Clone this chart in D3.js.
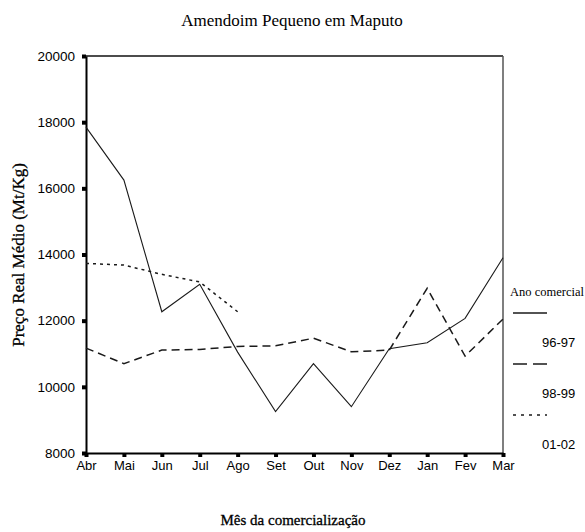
<!DOCTYPE html>
<html>
<head>
<meta charset="utf-8">
<script src="https://cdn.jsdelivr.net/npm/d3@7"></script>
<style>
  body { margin: 0; background: #fff; }
  svg { display: block; }
</style>
</head>
<body>
<div id="chart"></div>
<script>
const months = ['Abr', 'Mai', 'Jun', 'Jul', 'Ago', 'Set', 'Out', 'Nov', 'Dez', 'Jan', 'Fev', 'Mar'];
const yTicks = [8000, 10000, 12000, 14000, 16000, 18000, 20000];
const seriesNames = ['96-97', '98-99', '01-02'];

// preço real médio (Mt/Kg) por mês
const s9697 = [17850, 16250, 12270, 13100, 11050, 9250, 10700, 9400, 11150, 11330, 12070, 13900];
const s9899 = [11170, 10700, 11110, 11130, 11220, 11240, 11470, 11060, 11110, 12980, 10930, 12050];
const s0102 = [13730, 13680, 13400, 13170, 12270, null, null, null, null, null, null, null];

const W = 585;
const H = 532;
const plot = { left: 86, right: 503, top: 56, bottom: 453 };

const dashes = ['none', '8,5', '3,4'];
const widths = [1.1, 1.5, 1.5];

const svg = d3.select('#chart').append('svg')
  .attr('width', W)
  .attr('height', H)
  .style('font-family', '"Liberation Sans", Arial, sans-serif');

const x = d3.scalePoint()
  .domain(months)
  .range([plot.left, plot.right]);

const y = d3.scaleLinear()
  .domain([8000, 20000])
  .range([plot.bottom, plot.top]);

// title
svg.append('text')
  .attr('x', 292)
  .attr('y', 26)
  .attr('text-anchor', 'middle')
  .style('font-family', '"Liberation Serif", "Times New Roman", serif')
  .style('font-size', '17px')
  .text('Amendoim Pequeno em Maputo');

// frame top + right
svg.append('line')
  .attr('x1', plot.left).attr('x2', plot.right)
  .attr('y1', plot.top).attr('y2', plot.top)
  .attr('stroke', '#111').attr('stroke-width', 1.5);
svg.append('line')
  .attr('x1', plot.right).attr('x2', plot.right)
  .attr('y1', plot.top).attr('y2', plot.bottom)
  .attr('stroke', '#555').attr('stroke-width', 1.5);

// y axis
const yAxis = svg.append('g')
  .attr('transform', `translate(${plot.left},0)`)
  .call(d3.axisLeft(y).tickValues(yTicks).tickFormat(d3.format('d')).tickSize(0).tickPadding(11));
yAxis.select('.domain').attr('stroke', '#000').attr('stroke-width', 2);
yAxis.selectAll('.tick text')
  .style('font-size', '13.5px')
  .attr('fill', '#000');
yAxis.selectAll('.tick').append('rect')
  .attr('x', -4).attr('y', -2)
  .attr('width', 4).attr('height', 4)
  .attr('fill', '#000');

// x axis
const xAxis = svg.append('g')
  .attr('transform', `translate(0,${plot.bottom})`)
  .call(d3.axisBottom(x).tickSize(0).tickPadding(8));
xAxis.select('.domain').attr('stroke', '#000').attr('stroke-width', 2);
xAxis.selectAll('.tick text')
  .style('font-size', '13px')
  .attr('fill', '#000');
xAxis.selectAll('.tick').append('rect')
  .attr('x', -2).attr('y', 0)
  .attr('width', 4).attr('height', 4)
  .attr('fill', '#000');

// axis titles
svg.append('text')
  .attr('transform', 'translate(24,255) rotate(-90)')
  .attr('text-anchor', 'middle')
  .style('font-family', '"Liberation Serif", "Times New Roman", serif')
  .style('font-size', '17px')
  .style('stroke', '#000')
  .style('stroke-width', 0.3)
  .text('Preço Real Médio (Mt/Kg)');

svg.append('text')
  .attr('x', 293)
  .attr('y', 525)
  .attr('text-anchor', 'middle')
  .style('font-family', '"Liberation Serif", "Times New Roman", serif')
  .style('font-size', '15px')
  .style('stroke', '#000')
  .style('stroke-width', 0.3)
  .text('Mês da comercialização');

// lines
const line = d3.line()
  .defined(d => d != null)
  .x((d, i) => x(months[i]))
  .y(d => y(d));

[s9697, s9899, s0102].forEach((s, k) => {
  svg.append('path')
    .attr('d', line(s))
    .attr('fill', 'none')
    .attr('stroke', '#1a1a1a')
    .attr('stroke-width', widths[k])
    .attr('stroke-dasharray', dashes[k]);
});

// legend
const legend = svg.append('g');
legend.append('text')
  .attr('x', 510)
  .attr('y', 296)
  .style('font-family', '"Liberation Serif", "Times New Roman", serif')
  .style('font-size', '12.5px')
  .text('Ano comercial');

const legendDashes = ['none', '14,6', '3,5'];
seriesNames.forEach((name, k) => {
  const ly = 313 + k * 51;
  legend.append('line')
    .attr('x1', 513).attr('x2', 547)
    .attr('y1', ly).attr('y2', ly)
    .attr('stroke', '#1a1a1a')
    .attr('stroke-width', 1.5)
    .attr('stroke-dasharray', legendDashes[k]);
  legend.append('text')
    .attr('x', 542)
    .attr('y', ly + 34)
    .style('font-size', '13px')
    .text(name);
});
</script>
</body>
</html>
